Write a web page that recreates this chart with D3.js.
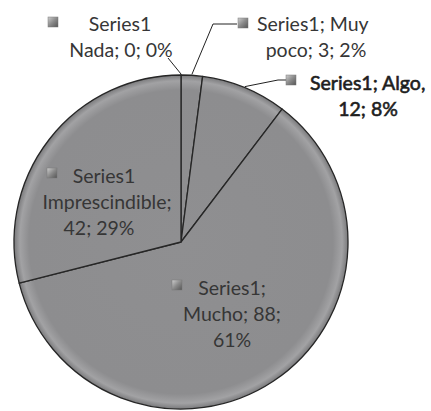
<!DOCTYPE html>
<html>
<head>
<meta charset="utf-8">
<script src="https://cdn.jsdelivr.net/npm/d3@7"></script>
<style>
  body { margin: 0; background: #fff; }
  text { font-family: Lato, "Open Sans", sans-serif; fill: #363636; }
</style>
</head>
<body>
<svg id="viz"></svg>
<script>
// ----------------------- DATA
const seriesName = 'Series1';
const categories = ['Nada', 'Muy poco', 'Algo', 'Mucho', 'Imprescindible'];
const values = [0, 3, 12, 88, 42];

// label text lines per slice (as shown in the picture)
const labelLines = [
  ['Series1', 'Nada; 0; 0%'],
  ['Series1; Muy', 'poco; 3; 2%'],
  ['Series1; Algo,', '12; 8%'],
  ['Series1;', 'Mucho; 88;', '61%'],
  ['Series1', 'Imprescindible;', '42; 29%']
];

// ----------------------- LAYOUT
const width = 431, height = 411;
const cx = 181, cy = 242, radius = 167;
const lineGap = 26;

// per label: text x (per line), anchors, first baseline, marker pos, leader points
const labelLayout = [
  { xs: [120, 121], anchors: ['middle', 'middle'], y: 31, marker: [53, 22], leader: [[168, 58]] },
  { xs: [257, 316], anchors: ['start', 'middle'], y: 31, marker: [243, 23], leader: [[213, 24], [237, 24]] },
  { xs: [310, 368], anchors: ['start', 'middle'], y: 90, marker: [291, 80], leader: [[278, 80], [286, 80]], bold: true },
  { xs: [232, 232, 232], anchors: ['middle', 'middle', 'middle'], y: 295, marker: [177, 285], leader: null },
  { xs: [104, 107, 99], anchors: ['middle', 'middle', 'middle'], y: 183, marker: [52, 173], leader: null }
];

const svg = d3.select('#viz')
  .attr('width', width)
  .attr('height', height);

const defs = svg.append('defs');

// bevel-ish radial shading, in the pie group's own coordinates
const grad = defs.append('radialGradient')
  .attr('id', 'pieGrad')
  .attr('gradientUnits', 'userSpaceOnUse')
  .attr('cx', 0).attr('cy', 0).attr('r', radius);
grad.append('stop').attr('offset', '0%').attr('stop-color', '#8f8f91');
grad.append('stop').attr('offset', '91%').attr('stop-color', '#8d8d8f');
grad.append('stop').attr('offset', '96.5%').attr('stop-color', '#a2a2a4');
grad.append('stop').attr('offset', '100%').attr('stop-color', '#7a7a7c');

const mgrad = defs.append('linearGradient')
  .attr('id', 'markGrad')
  .attr('x1', 0).attr('y1', 0).attr('x2', 1).attr('y2', 1);
mgrad.append('stop').attr('offset', '0%').attr('stop-color', '#cfcfcf');
mgrad.append('stop').attr('offset', '50%').attr('stop-color', '#8a8a8a');
mgrad.append('stop').attr('offset', '100%').attr('stop-color', '#555');

// ----------------------- PIE
const pie = d3.pie().sort(null).value(d => d).startAngle(0).endAngle(2 * Math.PI);
const arcs = pie(values);

const arc = d3.arc().innerRadius(0).outerRadius(radius);

const g = svg.append('g').attr('transform', `translate(${cx}, ${cy})`);

g.selectAll('path.slice')
  .data(arcs)
  .enter().append('path')
  .attr('class', 'slice')
  .attr('d', arc)
  .attr('fill', 'url(#pieGrad)')
  .attr('stroke', '#262626')
  .attr('stroke-width', 1.3)
  .attr('stroke-linejoin', 'round');

// ----------------------- LEADER LINES
const edgePoint = (d, r) => {
  const a = (d.startAngle + d.endAngle) / 2;
  return [cx + Math.sin(a) * r, cy - Math.cos(a) * r];
};

arcs.forEach((d, i) => {
  const L = labelLayout[i];
  if (!L.leader) return;
  const pts = [edgePoint(d, radius + 1)].concat(L.leader);
  svg.append('path')
    .attr('d', d3.line()(pts))
    .attr('fill', 'none')
    .attr('stroke', '#222')
    .attr('stroke-width', 1);
});

// ----------------------- LABELS
labelLines.forEach((lines, i) => {
  const L = labelLayout[i];
  const lg = svg.append('g');

  lg.append('rect')
    .attr('x', L.marker[0] - 5)
    .attr('y', L.marker[1] - 5)
    .attr('width', 10)
    .attr('height', 10)
    .attr('fill', 'url(#markGrad)')
    .attr('stroke', '#777')
    .attr('stroke-width', 0.5);

  lines.forEach((t, j) => {
    const txt = lg.append('text')
      .attr('x', L.xs[j])
      .attr('y', L.y + j * lineGap)
      .attr('text-anchor', L.anchors[j])
      .attr('font-size', 19.5)
      .text(t);
    // the "Algo" label reads darker / heavier in the original
    if (L.bold) {
      txt.style('fill', '#1e1e1e')
        .attr('stroke', '#1e1e1e')
        .attr('stroke-width', 0.6);
    }
  });
});
</script>
</body>
</html>
